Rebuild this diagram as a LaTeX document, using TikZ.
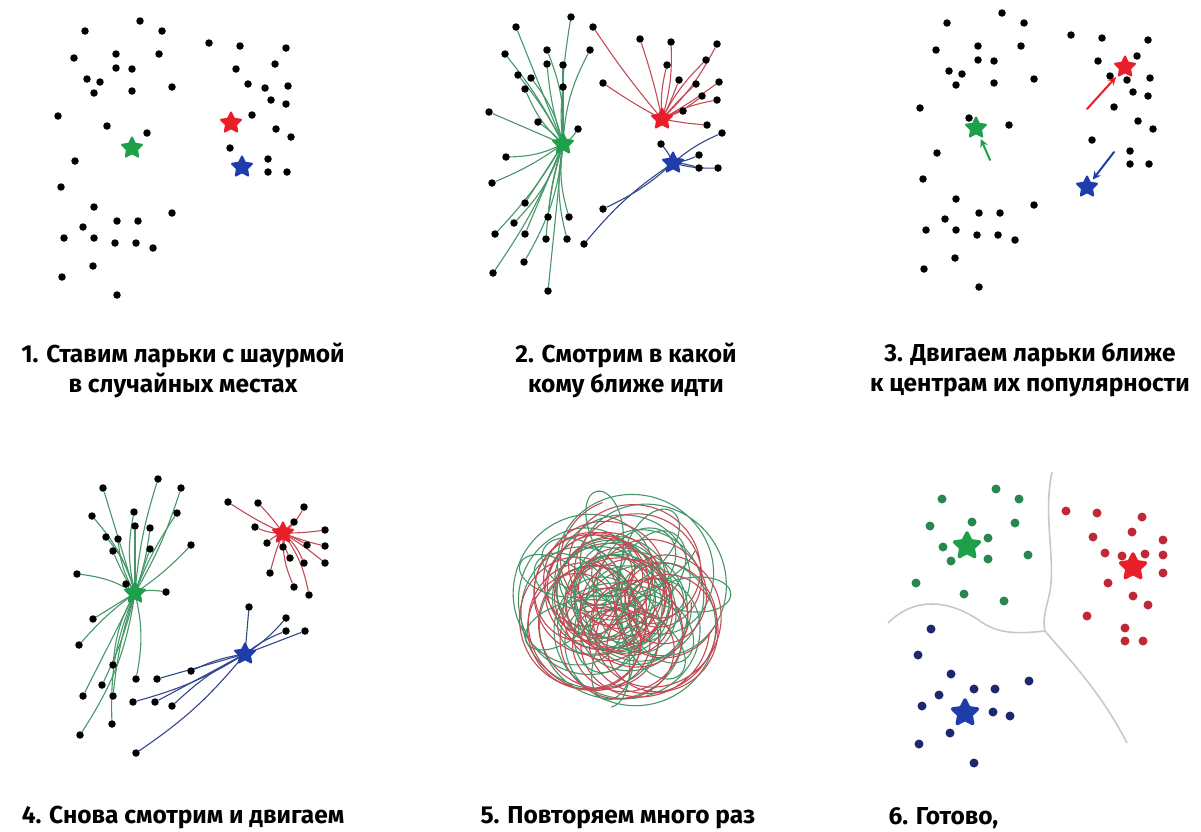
\documentclass[tikz,border=0pt]{standalone}
\usepackage{fontspec}
\setmainfont{Fira Sans}
\usetikzlibrary{shapes.geometric,arrows.meta,backgrounds}

\definecolor{stargreen}{RGB}{30,160,75}
\definecolor{starred}{RGB}{232,30,40}
\definecolor{starblue}{RGB}{30,60,170}
\definecolor{linegreen}{RGB}{70,150,105}
\definecolor{linered}{RGB}{195,75,85}
\definecolor{lineblue}{RGB}{50,70,140}
\definecolor{dotgreen}{RGB}{40,135,80}
\definecolor{dotred}{RGB}{190,40,55}
\definecolor{dotblue}{RGB}{30,40,110}
\definecolor{bordergray}{RGB}{200,200,200}

% dots of steps 1-3 (pixel coordinates of step 1)
\def\greenpts{140/21,85/31,74/58,116/54,159/54,116/68,132/69,87/79,100/82,94/93,132/91,58/116,107/126,147/133,75/161,61/187,94/207,117/221,138/221,83/227,64/238,94/238,115/243,136/243,93/266,62/277,117/295}
\def\redpts{162/31,209/43,240/46,236/69,172/87,248/84,286/48,275/64,265/88,288/86,271/100,286/104,252/115,276/129}
\def\bluepts{230/148,172/213,153/248,291/137,268/159,268/172,287/172}

% dots of step 4
\def\greenptsiv{158/479,103/488,181/488,92/516,134/512,177/513,135/526,150/528,106/537,118/539,113/551,150/549,191/545,77/574,166/592,126/584,93/619,79/645,113/665,136/679,102/685,83/696,113/696,112/724,80/735}
\def\redptsiv{228/502,258/503,304/507,255/527,294/522,325/530,267/543,283/547,307/545,325/546,290/558,304/563,325/563,270/573,294/587,309/595}
\def\blueptsiv{157/679,191/671,133/702,155/702,172/706,136/753,249/607,286/618,286/631,305/631}

% dots of step 6
\def\greenptsvi{996/489,942/499,1019/499,930/526,972/522,1015/523,988/538,943/547,951/561,988/559,1028/555,916/583,964/594,1004/601}
\def\redptsvi{1066/511,1097/513,1142/517,1132/532,1093/537,1163/540,1105/553,1122/556,1145/554,1163/555,1163/573,1108/583,1133/596,1148/605,1087/616,1125/628,1125/641,1143/641}
\def\blueptsvi{931/629,918/655,951/674,1029/681,974/689,995/689,939/695,922/706,993/712,1010/716,950/733,919/744,974/763}

\begin{document}
\begin{tikzpicture}[x=1pt,y=-1pt,
    dot/.style={circle, fill=black, inner sep=0pt, minimum size=7.5pt},
    bigdot/.style={circle, fill=#1, inner sep=0pt, minimum size=9pt},
    kiosk/.style={star, star points=5, star point ratio=2.0, draw=#1, fill=#1, line width=2pt, line join=round, inner sep=0pt, minimum size=21pt},
    bigkiosk/.style={kiosk=#1, line width=3.5pt, minimum size=26pt},
    gline/.style={draw=linegreen, line width=1.1pt},
    rline/.style={draw=linered, line width=1.1pt},
    bline/.style={draw=lineblue, line width=1.1pt},
    move/.style={draw=#1, line width=2pt, line cap=round, -{Stealth[length=8pt,width=8pt]}, shorten >=3pt},
    border/.style={draw=bordergray, line width=1.6pt},
    scribble/.style={draw=#1, line width=1.1pt, smooth, variable=\t},
    caption/.style={font=\bfseries\fontsize{24.5}{30}\selectfont, align=center}
  ]
  \useasboundingbox (0,0) rectangle (1201,831);

  % step 1: random kiosks
  \foreach \x/\y [count=\i] in \greenpts {\node[dot] (a-g-\i) at (\x,\y) {};}
  \foreach \x/\y [count=\i] in \redpts {\node[dot] (a-r-\i) at (\x,\y) {};}
  \foreach \x/\y [count=\i] in \bluepts {\node[dot] (a-b-\i) at (\x,\y) {};}
  \node[kiosk=stargreen] (a-gs) at (132,148) {};
  \node[kiosk=starred] (a-rs) at (231,123) {};
  \node[kiosk=starblue] (a-bs) at (242,167) {};

  % step 2: who goes where
  \begin{scope}[shift={(431,-4)}]
    \node[kiosk=stargreen] (b-gs) at (132,148) {};
    \node[kiosk=starred] (b-rs) at (231,123) {};
    \node[kiosk=starblue] (b-bs) at (242,167) {};
    \foreach \x/\y [count=\i, evaluate=\i as \bnd using {mod(\i,5)*6-12}] in \greenpts {
      \node[dot] (b-g-\i) at (\x,\y) {};
      \begin{pgfonlayer}{background}
        \draw[gline] (b-g-\i) to[bend left=\bnd] (b-gs.center);
      \end{pgfonlayer}
    }
    \foreach \x/\y [count=\i, evaluate=\i as \bnd using {mod(\i,4)*6-9}] in \redpts {
      \node[dot] (b-r-\i) at (\x,\y) {};
      \begin{pgfonlayer}{background}
        \draw[rline] (b-r-\i) to[bend left=\bnd] (b-rs.center);
      \end{pgfonlayer}
    }
    \foreach \x/\y [count=\i, evaluate=\i as \bnd using {mod(\i,2)*16-8}] in \bluepts {
      \node[dot] (b-b-\i) at (\x,\y) {};
      \begin{pgfonlayer}{background}
        \draw[bline] (b-b-\i) to[bend left=\bnd] (b-bs.center);
      \end{pgfonlayer}
    }
  \end{scope}

  % step 3: move kiosks
  \begin{scope}[shift={(862,-8)}]
    \foreach \x/\y [count=\i] in \greenpts {\node[dot] (c-g-\i) at (\x,\y) {};}
    \foreach \x/\y [count=\i] in \redpts {\node[dot] (c-r-\i) at (\x,\y) {};}
    \foreach \x/\y [count=\i] in \bluepts {\node[dot] (c-b-\i) at (\x,\y) {};}
  \end{scope}
  \node[kiosk=stargreen] (c-gs) at (976,128) {};
  \node[kiosk=starred] (c-rs) at (1125,67) {};
  \node[kiosk=starblue] (c-bs) at (1087,187) {};
  \coordinate (c-gt) at (990,160);
  \coordinate (c-rt) at (1087,109);
  \coordinate (c-bt) at (1114,152);
  \draw[move=stargreen] (c-gt) -- (c-gs);
  \draw[move=starred] (c-rt) -- (c-rs);
  \draw[move=starblue] (c-bt) -- (c-bs);

  % step 4: look again
  \node[kiosk=stargreen] (d-gs) at (135,593) {};
  \node[kiosk=starred] (d-rs) at (283,533) {};
  \node[kiosk=starblue] (d-bs) at (245,654) {};
  \foreach \x/\y [count=\i, evaluate=\i as \bnd using {mod(\i,5)*6-12}] in \greenptsiv {
    \node[dot] (d-g-\i) at (\x,\y) {};
    \begin{pgfonlayer}{background}
      \draw[gline] (d-g-\i) to[bend left=\bnd] (d-gs.center);
    \end{pgfonlayer}
  }
  \foreach \x/\y [count=\i, evaluate=\i as \bnd using {mod(\i,4)*8-12}] in \redptsiv {
    \node[dot] (d-r-\i) at (\x,\y) {};
    \begin{pgfonlayer}{background}
      \draw[rline] (d-r-\i) to[bend left=\bnd] (d-rs.center);
    \end{pgfonlayer}
  }
  \foreach \x/\y [count=\i, evaluate=\i as \bnd using {mod(\i,3)*8-8}] in \blueptsiv {
    \node[dot] (d-b-\i) at (\x,\y) {};
    \begin{pgfonlayer}{background}
      \draw[bline] (d-b-\i) to[bend left=\bnd] (d-bs.center);
    \end{pgfonlayer}
  }

  % step 5: repeat many times
  \draw[scribble=linegreen] plot[domain=0:7200, samples=720]
    ({620+62*sin(0.071*\t+20)*cos(0.29*\t)+50*cos(\t)}, {602+60*sin(0.071*\t+20)*sin(0.29*\t)+50*sin(\t)});
  \draw[scribble=linered] plot[domain=0:6500, samples=650]
    ({618+60*sin(0.083*\t+70)*cos(0.23*\t+40)+48*cos(1.09*\t)}, {600+58*sin(0.083*\t+70)*sin(0.23*\t+40)+48*sin(1.09*\t)});
  \draw[scribble=linegreen] plot[domain=0:5400, samples=540]
    ({622+62*cos(0.061*\t)*cos(0.37*\t+100)+48*sin(0.95*\t)}, {598+62*cos(0.061*\t)*sin(0.37*\t+100)+48*cos(0.95*\t)});
  \draw[scribble=linered] plot[domain=0:3600, samples=360]
    ({624+58*sin(0.11*\t+120)*cos(0.17*\t)+46*cos(1.13*\t+30)}, {604+58*sin(0.11*\t+120)*sin(0.17*\t)+46*sin(1.13*\t+30)});

  % step 6: done
  \coordinate (f-top) at (1052,472);
  \coordinate (f-jn) at (1045,631);
  \coordinate (f-left) at (888,623);
  \coordinate (f-bot) at (1127,743);
  \draw[border] (f-top) .. controls (1042,520) and (1058,565) .. (1048,600)
    .. controls (1044,615) and (1043,625) .. (f-jn);
  \draw[border] (f-left) .. controls (915,596) and (950,600) .. (980,621)
    .. controls (1000,636) and (1025,633) .. (f-jn);
  \draw[border] (f-jn) .. controls (1065,655) and (1100,690) .. (f-bot);
  \foreach \x/\y [count=\i] in \greenptsvi {\node[bigdot=dotgreen] (f-g-\i) at (\x,\y) {};}
  \foreach \x/\y [count=\i] in \redptsvi {\node[bigdot=dotred] (f-r-\i) at (\x,\y) {};}
  \foreach \x/\y [count=\i] in \blueptsvi {\node[bigdot=dotblue] (f-b-\i) at (\x,\y) {};}
  \node[bigkiosk=stargreen] (f-gs) at (967,546) {};
  \node[bigkiosk=starred] (f-rs) at (1133,567) {};
  \node[bigkiosk=starblue] (f-bs) at (965,713) {};

  % captions
  \node[caption] (cap1) at (183,370) {1. Ставим ларьки с шаурмой\\в случайных местах};
  \node[caption] (cap2) at (626,370) {2. Смотрим в какой\\кому ближе идти};
  \node[caption] (cap3) at (1030,370) {3. Двигаем ларьки ближе\\к центрам их популярности};
  \node[caption] (cap4) at (183,818) {4. Снова смотрим и двигаем};
  \node[caption] (cap5) at (618,818) {5. Повторяем много раз};
  \node[caption, anchor=west] (cap6) at (885,818) {6. Готово,};
\end{tikzpicture}
\end{document}
